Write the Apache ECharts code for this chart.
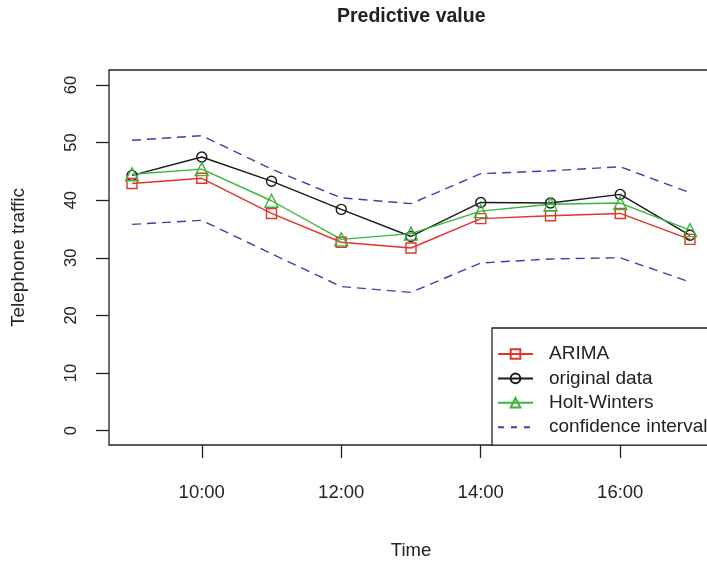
<!DOCTYPE html>
<html>
<head>
<meta charset="utf-8">
<title>Predictive value</title>
<script src="https://cdn.jsdelivr.net/npm/echarts@6/dist/echarts.min.js"></script>
<style>
	html, body { margin: 0; padding: 0; background: #fff; }
	#lineChart { width: 707px; height: 561px; }
</style>
</head>
<body>
<div id="lineChart"></div>
<script>
// 时间点(小时)
var hours = [9, 10, 11, 12, 13, 14, 15, 16, 17];
var xTickHours = [10, 12, 14, 16];
var yTicks = [0, 10, 20, 30, 40, 50, 60];

// 各序列数值
var arima = [42.9, 43.8, 37.7, 32.7, 31.7, 36.8, 37.3, 37.7, 33.2];
var original = [44.3, 47.5, 43.3, 38.4, 33.7, 39.6, 39.5, 41.0, 33.9];
var holtWinters = [44.5, 45.4, 39.9, 33.2, 34.2, 38.1, 39.3, 39.5, 34.8];
var upperCI = [50.4, 51.2, 45.4, 40.4, 39.4, 44.6, 45.1, 45.8, 41.3];
var lowerCI = [35.8, 36.5, 30.7, 25.0, 24.0, 29.1, 29.8, 30.0, 25.8];

var RED = '#e3342b', BLACK = '#1a1a1a', GREEN = '#3cb43c', BLUE = '#3146a8';
var FONT = '"Liberation Sans", Arial, sans-serif';

function pairs(vals) {
	var out = [];
	for (var i = 0; i < hours.length; i++) {
		out.push([hours[i], vals[i]]);
	}
	return out;
}

// 带空心标记的折线
function markedLine(name, vals, color, symbol, size) {
	return {
		name: name,
		type: 'line',
		data: pairs(vals),
		symbol: symbol,
		symbolSize: size,
		color: color,
		lineStyle: { color: color, width: 1.4 },
		itemStyle: { color: 'rgba(255,255,255,0)', borderColor: color, borderWidth: 1.4 },
		animation: false,
		z: 3
	};
}

function ciLine(vals) {
	return {
		name: 'confidence interval',
		type: 'line',
		data: pairs(vals),
		symbol: 'none',
		color: BLUE,
		lineStyle: { color: BLUE, width: 1.4, type: [9, 6] },
		animation: false,
		z: 2
	};
}

var chart = echarts.init(document.getElementById('lineChart'));

var option = {
	backgroundColor: '#fff',
	textStyle: { fontFamily: FONT },
	title: {
		text: 'Predictive value',
		left: 337,
		top: 7,
		padding: 0,
		textStyle: { fontSize: 19.5, fontWeight: 'bold', color: '#222', fontFamily: FONT }
	},
	grid: {
		left: 109,
		top: 70,
		right: -6,
		bottom: 116,
		show: true,
		borderColor: '#222',
		borderWidth: 1.3,
		containLabel: false,
		outerBoundsMode: 'none'
	},
	legend: {
		orient: 'vertical',
		left: 492,
		top: 328,
		padding: [16, 40, 8, 5],
		itemWidth: 35,
		itemHeight: 12,
		itemGap: 4.4,
		backgroundColor: '#fff',
		borderColor: '#222',
		borderWidth: 1.3,
		borderRadius: 0,
		selectedMode: false,
		textStyle: { fontSize: 19, lineHeight: 20, color: '#222', fontFamily: FONT, padding: [0, 0, 0, 11] },
		data: [
			'ARIMA',
			'original data',
			'Holt-Winters',
			{ name: 'confidence interval', itemStyle: { opacity: 0 }, lineStyle: { type: [6, 7] } }
		]
	},
	xAxis: {
		type: 'value',
		min: 8.67,
		max: 17.33,
		name: 'Time',
		nameLocation: 'middle',
		nameGap: 96,
		nameTextStyle: { fontSize: 18.5, color: '#222', fontFamily: FONT },
		axisLine: { show: false, onZero: false },
		splitLine: { show: false },
		axisTick: {
			show: true,
			inside: false,
			length: 13,
			customValues: xTickHours,
			lineStyle: { color: '#222', width: 1.3 }
		},
		axisLabel: {
			customValues: xTickHours,
			margin: 38,
			fontSize: 18.5,
			color: '#222',
			formatter: function (v) { return v + ':00'; }
		}
	},
	yAxis: {
		type: 'value',
		min: -2.5,
		max: 62.6,
		name: 'Telephone traffic',
		nameLocation: 'middle',
		nameRotate: 90,
		nameGap: 81,
		nameTextStyle: { fontSize: 19, color: '#222', fontFamily: FONT },
		axisLine: { show: false, onZero: false },
		splitLine: { show: false },
		axisTick: {
			show: true,
			inside: false,
			length: 13,
			customValues: yTicks,
			lineStyle: { color: '#222', width: 1.3 }
		},
		axisLabel: {
			customValues: yTicks,
			rotate: 90,
			margin: 29,
			fontSize: 16.5,
			color: '#222'
		}
	},
	series: [
		markedLine('original data', original, BLACK, 'circle', 10),
		markedLine('ARIMA', arima, RED, 'rect', 10),
		markedLine('Holt-Winters', holtWinters, GREEN, 'triangle', 13),
		ciLine(upperCI),
		ciLine(lowerCI)
	]
};

chart.setOption(option);
</script>
</body>
</html>
